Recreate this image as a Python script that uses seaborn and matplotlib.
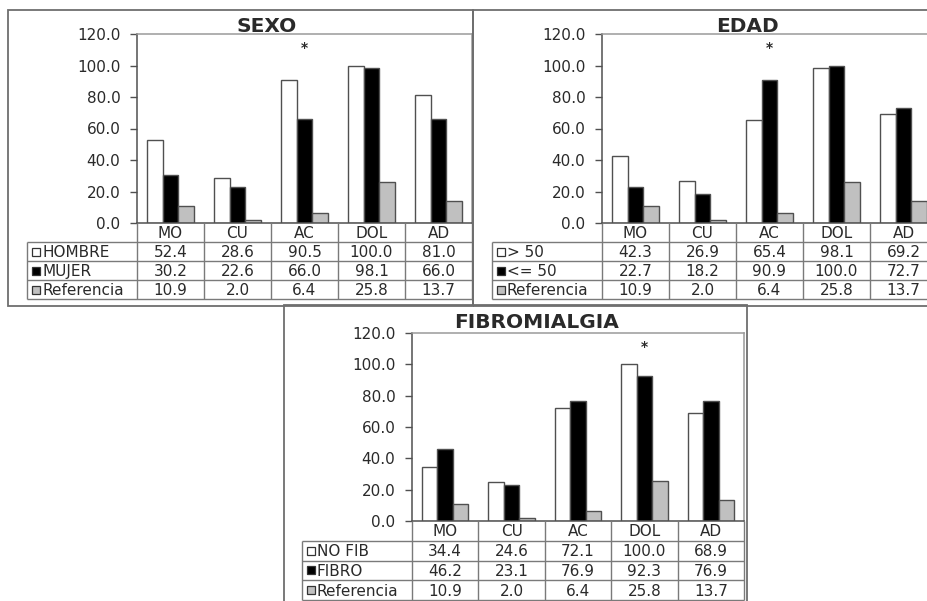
import numpy as np
import pandas as pd
import matplotlib
matplotlib.use("Agg")
import matplotlib.pyplot as plt
import seaborn as sns
from matplotlib.patches import Rectangle

# ---------------- data ----------------
categories = ["MO", "CU", "AC", "DOL", "AD"]
referencia = [10.9, 2.0, 6.4, 25.8, 13.7]

sexo_labels = ["HOMBRE", "MUJER", "Referencia"]
hombre = [52.4, 28.6, 90.5, 100.0, 81.0]
mujer = [30.2, 22.6, 66.0, 98.1, 66.0]

edad_labels = ["> 50", "<= 50", "Referencia"]
mayor50 = [42.3, 26.9, 65.4, 98.1, 69.2]
menor50 = [22.7, 18.2, 90.9, 100.0, 72.7]

fibro_labels = ["NO FIB", "FIBRO", "Referencia"]
no_fib = [34.4, 24.6, 72.1, 100.0, 68.9]
fibro = [46.2, 23.1, 76.9, 92.3, 76.9]

titles = ["SEXO", "EDAD", "FIBROMIALGIA"]
star_cats = ["AC", "AC", "DOL"]
yticks = [0, 20, 40, 60, 80, 100, 120]

# ---------------- style ----------------
W, H = 928, 601
sns.set_theme(style="white")
plt.rcParams["font.family"] = ["DejaVu Sans"]

TXT = "#2a2a2a"
GRID = "#7a7a7a"
DARK = "#505050"
series_colors = ["white", "black", "#c0c0c0"]

fig = plt.figure(figsize=(W / 100, H / 100), dpi=100)
fig.patch.set_facecolor("white")


def fx(x):
    return x / W


def fy(y):
    return 1 - y / H


def add_px_axes(l, t, r, b):
    return fig.add_axes([fx(l), fy(b), (r - l) / W, (b - t) / H])


def draw_panel(title, labels, values, star, border, axbox, label_left, table_bottom, title_xy):
    # panel border
    bx0, by0, bx1, by1 = border
    fig.add_artist(Rectangle((fx(bx0), fy(by1)), (bx1 - bx0) / W, (by1 - by0) / H,
                             transform=fig.transFigure, fill=False, ec="#6e6e6e", lw=1.3))
    l, t, r, b = axbox
    ax = add_px_axes(l, t, r, b)
    df = pd.DataFrame({
        "cat": categories * 3,
        "serie": np.repeat(labels, len(categories)),
        "val": np.concatenate(values),
    })
    palette = dict(zip(labels, series_colors))
    sns.barplot(data=df, x="cat", y="val", hue="serie", order=categories, hue_order=labels,
                palette=palette, width=0.7, edgecolor=DARK, linewidth=1.0, errorbar=None,
                legend=False, saturation=1, ax=ax)
    ax.set_xlim(-0.5, len(categories) - 0.5)
    ax.set_ylim(0, 120)
    ax.set_yticks(yticks)
    ax.set_yticklabels([f"{v:.1f}" for v in yticks])
    ax.set_xticks([])
    ax.set_xlabel("")
    ax.set_ylabel("")
    ax.tick_params(axis="y", left=True, direction="out", length=5, width=1, color=DARK,
                   pad=7, labelsize=11, labelcolor=TXT)
    ax.spines["left"].set_color(DARK)
    ax.spines["bottom"].set_color(DARK)
    ax.spines["top"].set_color("#9a9a9a")
    ax.spines["right"].set_color("#9a9a9a")
    for s in ax.spines.values():
        s.set_linewidth(1.1)
    ax.text(categories.index(star), 111, "*", ha="center", va="center",
            fontsize=10, fontweight="bold", color=TXT)

    # title
    fig.text(fx(title_xy[0]), fy(title_xy[1]), title, ha="center", va="center",
             fontsize=14.5, fontweight="bold", color=TXT)

    # data table
    colw = (r - l) / len(categories)
    lw = (l - label_left) / colw
    tax = add_px_axes(label_left, b, r, table_bottom)
    x0 = -0.5 - lw
    tax.set_xlim(x0, len(categories) - 0.5)
    tax.set_ylim(4, 0)
    tax.axis("off")
    tax.vlines([i - 0.5 for i in range(len(categories) + 1)], 0, 4, color=GRID, lw=1, clip_on=False)
    tax.vlines([x0], 1, 4, color=GRID, lw=1, clip_on=False)
    tax.hlines([1, 2, 3, 4], x0, len(categories) - 0.5, color=GRID, lw=1, clip_on=False)
    for i, c in enumerate(categories):
        tax.text(i, 0.55, c, ha="center", va="center", fontsize=11, color=TXT)
    for rI, (lab, vals) in enumerate(zip(labels, values)):
        yy = rI + 1.55
        for i, v in enumerate(vals):
            tax.text(i, yy, f"{v:.1f}", ha="center", va="center", fontsize=11, color=TXT,
                     clip_on=False)
        tax.plot([x0 + 9 / colw], [yy - 0.05], marker="s", ms=5.5, mfc=series_colors[rI],
                 mec="#333333", mew=0.9, clip_on=False)
        tax.text(x0 + 15 / colw, yy, lab, ha="left", va="center", fontsize=11, color=TXT)


draw_panel(titles[0], sexo_labels, [hombre, mujer, referencia], star_cats[0],
           (8, 10, 473, 306), (137, 34, 472, 223), 27, 299, (267, 26))
draw_panel(titles[1], edad_labels, [mayor50, menor50, referencia], star_cats[1],
           (473, 10, 940, 306), (602, 34, 937, 223), 492, 299, (747, 26))
draw_panel(titles[2], fibro_labels, [no_fib, fibro, referencia], star_cats[2],
           (284, 305, 747, 640), (412, 333, 744, 521), 302, 600, (537, 323))

fig.savefig("out.png", dpi=100, facecolor="white")
